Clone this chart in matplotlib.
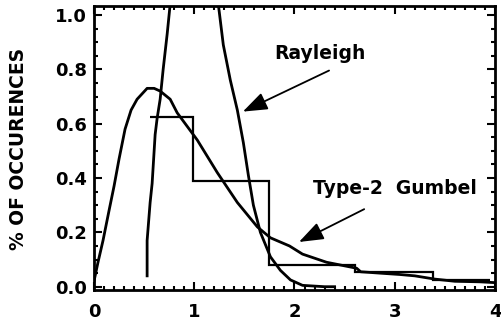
import matplotlib
matplotlib.use("Agg")
import matplotlib.pyplot as plt
from matplotlib.ticker import MultipleLocator

# values
gumbel_x = [0.0, 0.04, 0.09, 0.15, 0.2, 0.25, 0.31, 0.37, 0.43, 0.53, 0.60, 0.66,
            0.76, 0.83, 0.89, 1.03, 1.23, 1.43, 1.63, 1.76, 1.95, 2.08, 2.32, 2.62,
            2.66, 2.85, 3.05, 3.2, 3.4, 3.6, 3.85, 4.0]
gumbel_y = [0.02, 0.09, 0.17, 0.28, 0.37, 0.47, 0.58, 0.65, 0.69, 0.73, 0.73, 0.72,
            0.69, 0.64, 0.61, 0.54, 0.42, 0.31, 0.22, 0.18, 0.15, 0.12, 0.09, 0.068,
            0.055, 0.05, 0.045, 0.04, 0.028, 0.02, 0.018, 0.015]

rayleigh_x = [0.53, 0.53, 0.56, 0.58, 0.61, 0.63, 0.66, 0.69, 0.73, 0.76, 0.85, 1.0,
              1.15, 1.24, 1.29, 1.36, 1.43, 1.49, 1.54, 1.59, 1.66, 1.76, 1.86, 1.96,
              2.08, 2.3, 2.4]
rayleigh_y = [0.04, 0.17, 0.31, 0.38, 0.56, 0.62, 0.69, 0.80, 0.93, 1.04, 1.15, 1.22,
              1.15, 1.04, 0.89, 0.76, 0.65, 0.53, 0.41, 0.30, 0.20, 0.11, 0.06, 0.025,
              0.005, 0.0, 0.0]

hist_edges = [0.56, 0.99, 1.75, 2.6, 3.38, 3.95]
hist_vals = [0.625, 0.39, 0.08, 0.054, 0.024]

fig = plt.figure(figsize=(5.01, 3.35), dpi=100)
ax = fig.add_axes([0.1876, 0.134, 0.8004, 0.848])

ax.plot(gumbel_x, gumbel_y, color="black", lw=2.0)
ax.plot(rayleigh_x, rayleigh_y, color="black", lw=2.0)
ax.stairs(hist_vals, hist_edges, baseline=None, color="black", lw=1.6)

ax.set_xlim(0, 4)
ax.set_ylim(-0.0125, 1.033)

ax.xaxis.set_major_locator(MultipleLocator(1))
ax.xaxis.set_minor_locator(MultipleLocator(0.1))
ax.yaxis.set_major_locator(MultipleLocator(0.2))
ax.yaxis.set_minor_locator(MultipleLocator(0.05))
ax.yaxis.set_major_formatter(plt.FuncFormatter(lambda v, p: "%.1f" % v))

ax.tick_params(which="both", direction="in", top=True, right=True, width=1.5,
               color="black")
ax.tick_params(which="major", length=6)
ax.tick_params(which="minor", length=3)
ax.tick_params(axis="x", which="major", pad=9)
ax.tick_params(axis="y", which="major", pad=5)
for lab in ax.get_xticklabels() + ax.get_yticklabels():
    lab.set_fontfamily("DejaVu Sans")
    lab.set_fontweight("bold")
    lab.set_fontsize(13)

for sp in ax.spines.values():
    sp.set_linewidth(2)

fig.text(0.037, 0.555, "% OF OCCURENCES", rotation=90, ha="center", va="center",
         fontsize=13.5, fontweight="bold", family="DejaVu Sans")

ax.text(2.25, 0.86, "Rayleigh", ha="center", va="center", fontsize=13.5,
        fontweight="bold", family="DejaVu Sans")
ax.annotate("", xy=(1.46, 0.64), xytext=(2.37, 0.80),
            arrowprops=dict(arrowstyle="-|>,head_length=1.5,head_width=0.55",
                            color="black", lw=1.3))

ax.text(3.0, 0.36, "Type-2  Gumbel", ha="center", va="center", fontsize=13.5,
        fontweight="bold", family="DejaVu Sans")
ax.annotate("", xy=(2.02, 0.16), xytext=(2.72, 0.29),
            arrowprops=dict(arrowstyle="-|>,head_length=1.5,head_width=0.55",
                            color="black", lw=1.3))

fig.savefig("out.png", dpi=100)
